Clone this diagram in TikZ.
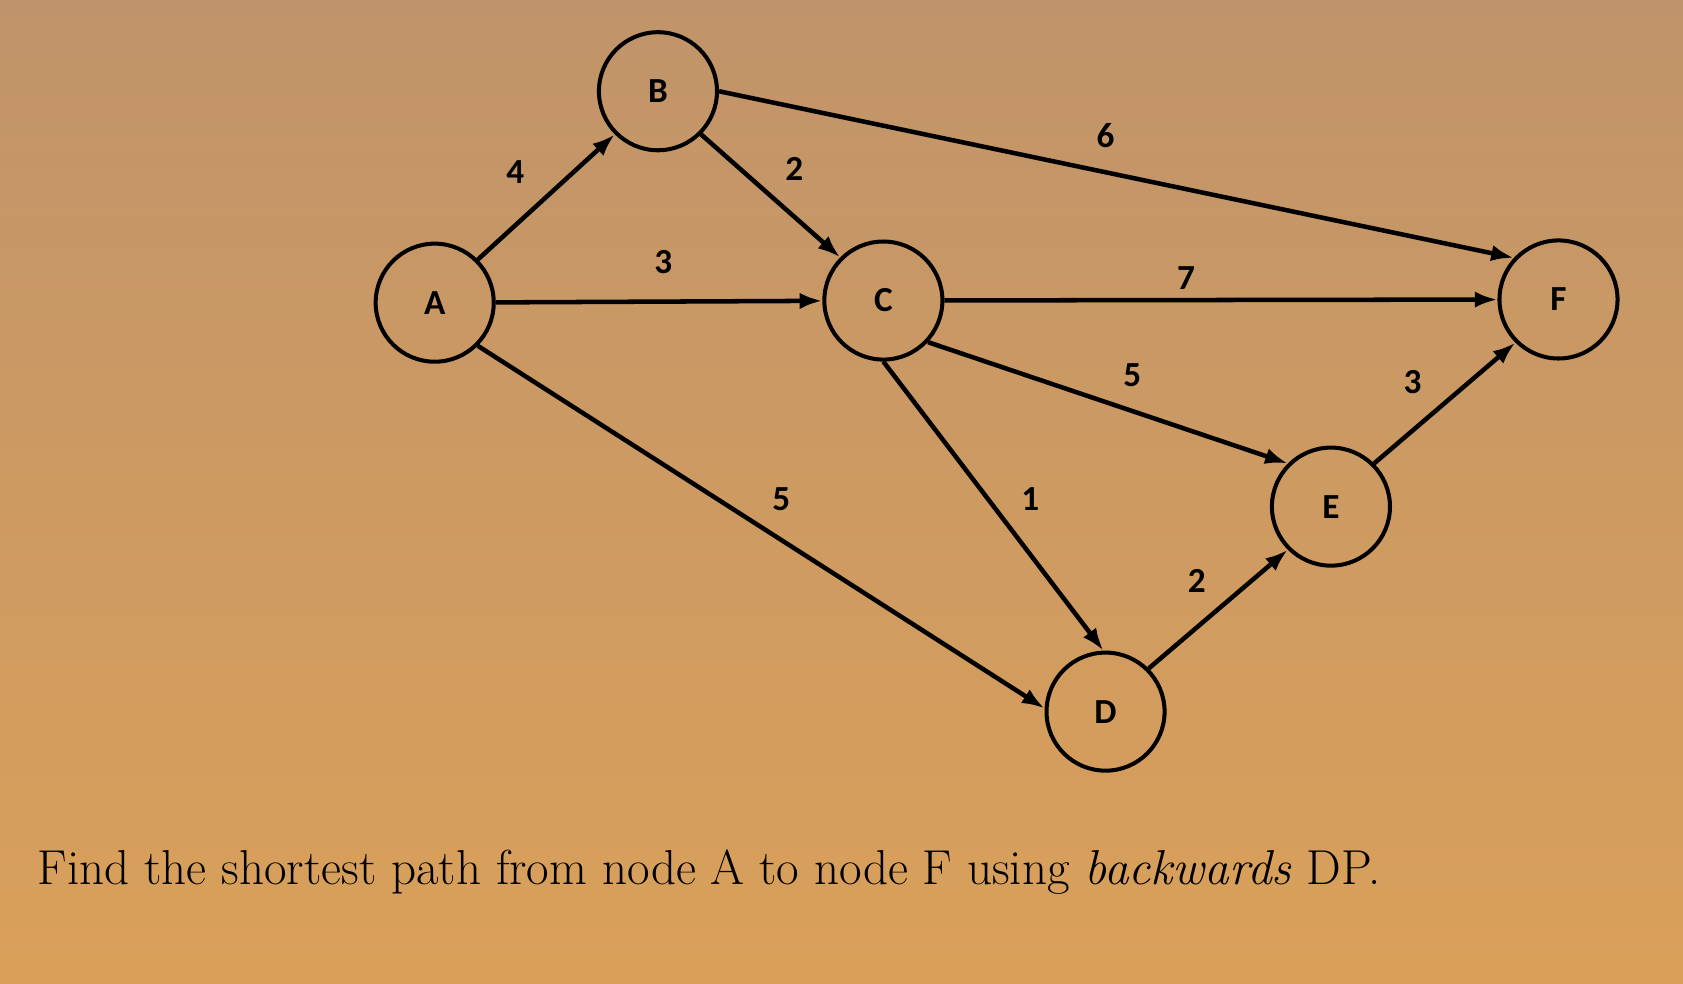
\documentclass[tikz,border=0pt]{standalone}
\usepackage{fontspec}
\newfontfamily\lbl{Carlito}
\usetikzlibrary{arrows.meta}
\definecolor{bgtop}{RGB}{192,148,106}
\definecolor{bgbot}{RGB}{218,160,90}
\begin{document}
\begin{tikzpicture}[x=0.03cm,y=-0.03cm,
  vtx/.style={circle,draw=black,line width=3.2pt,minimum size=3.3cm,inner sep=0pt,font=\lbl\bfseries\fontsize{28}{30}\selectfont},
  edge/.style={line width=3.6pt,-{Latex[length=18pt,width=13pt]}},
  wt/.style={font=\lbl\bfseries\fontsize{28}{30}\selectfont}]
\shade[top color=bgtop,bottom color=bgbot] (0,0) rectangle (1568,916);
\useasboundingbox (0,0) rectangle (1568,916);
\node[vtx] (A) at (405,282) {A};
\node[vtx] (B) at (613,85) {B};
\node[vtx] (C) at (823,280) {C};
\node[vtx] (D) at (1030,663) {D};
\node[vtx] (E) at (1240,472) {E};
\node[vtx] (F) at (1452,279) {F};
\draw[edge] (A.45) -- (B.-135);
\draw[edge] (A) -- (C);
\draw[edge] (A.-45) -- (D.177);
\draw[edge] (B.-45) -- (C.135);
\draw[edge] (B.0) -- (F.137);
\draw[edge] (C) -- (F);
\draw[edge] (C.-43) -- (E.135);
\draw[edge] (C.-90) -- (D.92);
\draw[edge] (D.45) -- (E.-135);
\draw[edge] (E.45) -- (F.-135);
\node[wt] (w1) at (480,160) {4};
\node[wt] (w2) at (740,157) {2};
\node[wt] (w3) at (1030,126) {6};
\node[wt] (w4) at (618,244) {3};
\node[wt] (w5) at (1105,259) {7};
\node[wt] (w6) at (1055,350) {5};
\node[wt] (w7) at (1316,356) {3};
\node[wt] (w8) at (728,465) {5};
\node[wt] (w9) at (960,465) {1};
\node[wt] (w10) at (1115,541) {2};
\node[anchor=base west,inner sep=0pt,font=\fontsize{39}{44}\selectfont] (q) at (35,824) {Find the shortest path from node A to node F using \textit{backwards} DP.};
\end{tikzpicture}
\end{document}
